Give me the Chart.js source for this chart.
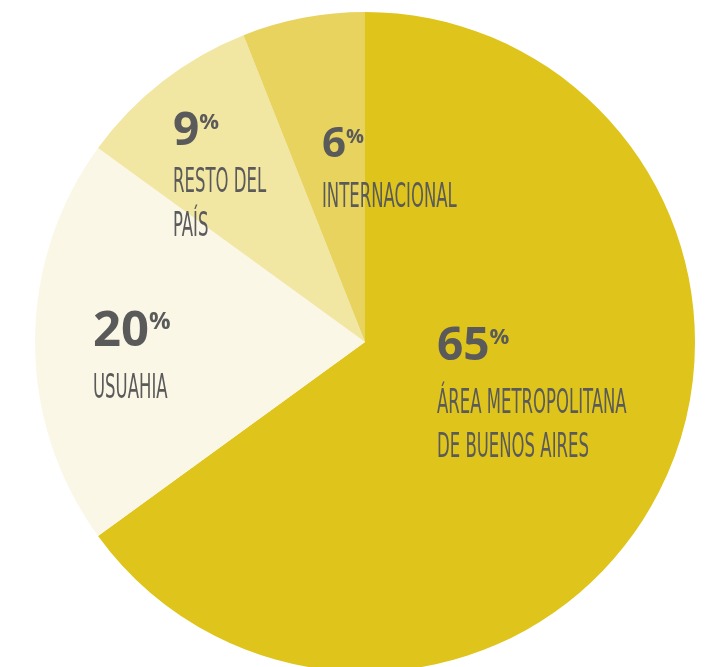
<!DOCTYPE html>
<html>
<head>
<meta charset="utf-8">
<script src="https://cdn.jsdelivr.net/npm/chart.js@4/dist/chart.umd.min.js"></script>
<style>
  html, body { margin: 0; padding: 0; background: #fff; overflow: hidden; }
  #wrap { width: 717px; height: 675px; position: relative; }
</style>
</head>
<body>
<div id="wrap"><canvas id="chartTorta"></canvas></div>
<script>
// ── Datos ─────────────────────────────────────────────
const regiones = ['ÁREA METROPOLITANA\nDE BUENOS AIRES', 'USUAHIA', 'RESTO DEL\nPAÍS', 'INTERNACIONAL'];
const porcentajes = [65, 20, 9, 6];
const colores = ['#dfc41b', '#fbf7e7', '#f2e6a3', '#e8d35e'];

// posición de cada etiqueta respecto del centro (px) y tamaños
const etiquetaDx = [72, -272, -192, -43];
const etiquetaDy = [18, 4, -197, -185];
const tamNumero = [46, 49, 46, 42];
const separacion = [53, 52, 47, 50];

const GRIS = '#5a5a5a';

// ── Plugin de etiquetas ───────────────────────────────
const etiquetas = {
    id: 'etiquetas',
    afterDatasetsDraw(chart) {
        const { ctx } = chart;
        const arco = chart.getDatasetMeta(0).data[0];
        const cx = arco.x, cy = arco.y;
        ctx.save();
        ctx.fillStyle = GRIS;
        ctx.textBaseline = 'alphabetic';
        ctx.textAlign = 'left';
        porcentajes.forEach((p, i) => {
            const x = cx + etiquetaDx[i];
            const y = cy + etiquetaDy[i];
            // número
            ctx.font = `bold ${tamNumero[i]}px "Open Sans", sans-serif`;
            const txt = String(p);
            ctx.fillText(txt, x, y);
            const w = ctx.measureText(txt).width;
            ctx.font = `bold ${Math.round(tamNumero[i] * 0.48)}px "Open Sans", sans-serif`;
            ctx.fillText('%', x + w, y - tamNumero[i] * 0.34);
            // texto
            ctx.font = '34px "Liberation Sans Narrow", "DejaVu Sans Condensed", sans-serif';
            regiones[i].split('\n').forEach((linea, j) => {
                ctx.save();
                ctx.translate(x, y + separacion[i] + j * 44);
                ctx.scale(0.54, 1);
                ctx.fillText(linea, 0, 0);
                ctx.restore();
            });
        });
        ctx.restore();
    }
};

new Chart(document.getElementById('chartTorta'), {
    type: 'pie',
    data: {
        labels: regiones,
        datasets: [{
            data: porcentajes,
            backgroundColor: colores,
            borderWidth: 0
        }]
    },
    options: {
        responsive: true,
        maintainAspectRatio: false,
        animation: false,
        layout: { padding: { top: 12, bottom: 3, left: 35, right: 22 } },
        plugins: {
            legend: { display: false },
            tooltip: { enabled: false }
        }
    },
    plugins: [etiquetas]
});
</script>
</body>
</html>
